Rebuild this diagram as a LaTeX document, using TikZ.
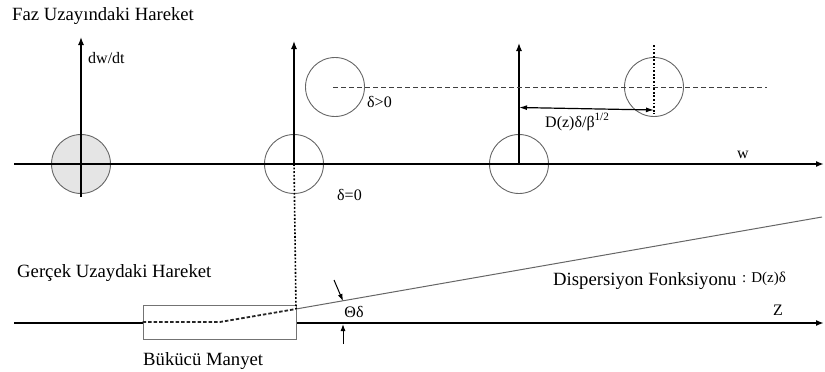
\documentclass[tikz,border=0pt]{standalone}
\usepackage{fontspec}
\setmainfont{Liberation Serif}
\usetikzlibrary{arrows.meta}
\begin{document}
\begin{tikzpicture}[x=1pt,y=-1pt,
  axis/.style={line width=1.7pt,-{Latex[length=8pt,width=6pt]}},
  vaxis/.style={line width=1.3pt,-{Latex[length=8pt,width=6pt]}},
  ring/.style={circle,draw=black!60,line width=0.9pt,minimum size=59pt,inner sep=0pt},
  big/.style={font=\fontsize{18.7}{20}\selectfont,inner sep=0pt},
  small/.style={font=\fontsize{16}{18}\selectfont,inner sep=0pt},
  dashln/.style={black!75,line width=1pt,dash pattern=on 5pt off 3pt},
  dotln/.style={black,line width=1.6pt,dash pattern=on 1.8pt off 1.8pt},
  thinarr/.style={line width=1pt,-{Latex[length=7pt,width=5pt]}}
]
\useasboundingbox (0,0) rectangle (825,372);
% ---------- phase space ----------
\coordinate (wl) at (14,164);
\coordinate (wr) at (824,164);
\node[ring,fill=black!10] (c1) at (81,164) {};
\node[ring] (c2) at (294,164) {};
\node[ring] (c3) at (519,164) {};
\node[ring] (c2u) at (335,87) {};
\node[ring] (c4) at (654,87) {};
\draw[axis] (wl) -- (wr);
\coordinate (a1b) at (81,197);
\coordinate (a1t) at (81,37);
\draw[vaxis] (a1b) -- (a1t);
\coordinate (a2t) at (294,41);
\draw[vaxis] (c2.center) -- (a2t);
\coordinate (a3t) at (519,43);
\draw[vaxis] (c3.center) -- (a3t);
\coordinate (dl) at (333,87);
\coordinate (dr) at (767,87);
\draw[dashln] (dl) -- (dr);
\coordinate (v4t) at (654,45);
\coordinate (v4b) at (654,114);
\draw[dotln] (v4t) -- (v4b);
\coordinate (arL) at (519,107.5);
\coordinate (arR) at (654,110);
\draw[line width=1.2pt,{Latex[length=8pt,width=5pt]}-{Latex[length=8pt,width=5pt]}] (arL) -- (arR);
% labels
\node[big,anchor=base west] (title) at (12,20) {Faz Uzayındaki Hareket};
\node[small,anchor=base west] (dwdt) at (88,63) {dw/dt};
\node[small,anchor=base west] (dpos) at (367,107) {δ>0};
\node[small,anchor=base west] (dzero) at (337,200) {δ=0};
\node[small,anchor=base west] (dlab) at (545,127) {D(z)δ/β\textsuperscript{1/2}};
\node[small,anchor=base west] (wlab) at (737,158) {w};
% ---------- real space ----------
\coordinate (zl) at (14,323);
\coordinate (zr) at (824,323);
\draw[axis] (zl) -- (zr);
\node[draw=black!55,fill=white,line width=1pt,minimum width=153pt,minimum height=34pt,inner sep=0pt] (mag) at (219.5,322) {};
\coordinate (bend) at (220,322);
\coordinate (dstart) at (296,309);
\coordinate (dend) at (822,217);
\draw[black!85,line width=1.8pt,dash pattern=on 3.5pt off 2pt] (mag.west) -- (bend) -- (dstart);
\draw[black!60,line width=1pt] (dstart) -- (dend);
\draw[dotln] (c2.center) -- (dstart);
% theta arrows
\coordinate (t1s) at (334,280);
\coordinate (t1e) at (343,301);
\draw[thinarr] (t1s) -- (t1e);
\coordinate (t2s) at (343,344);
\coordinate (t2e) at (343,324);
\draw[thinarr] (t2s) -- (t2e);
\node[small,anchor=base] (theta) at (354,317) {Θδ};
\node[big,anchor=base west] (gercek) at (17,277) {Gerçek Uzaydaki Hareket};
\node[big,anchor=base west] (disp) at (553,285) {Dispersiyon Fonksiyonu};
\node[font=\fontsize{15}{17}\selectfont,inner sep=0pt,anchor=base west] (dfun) at (742,282) {: D(z)δ};
\node[small,anchor=base west] (zlab) at (773,315) {Z};
\node[big,anchor=base west] (buk) at (143,365) {Bükücü Manyet};
\end{tikzpicture}
\end{document}
